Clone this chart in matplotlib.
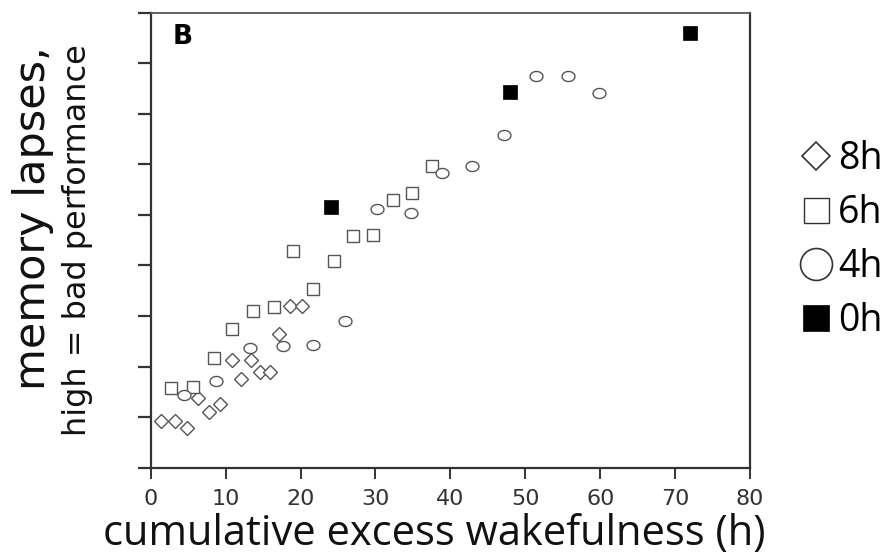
import numpy as np
import matplotlib
matplotlib.use("Agg")
import matplotlib.pyplot as plt
from matplotlib.path import Path
from matplotlib.lines import Line2D

plt.rcParams["font.family"] = ["Open Sans", "DejaVu Sans"]

# ── data (x = excess wakefulness h, y = lapses, arbitrary units)
x_8h = [1.4, 3.2, 4.8, 6.3, 7.8, 9.2, 10.8, 12.0, 13.4, 14.6, 15.9, 17.1, 18.6, 20.2]
y_8h = [0.93, 0.93, 0.79, 1.38, 1.11, 1.27, 2.14, 1.75, 2.13, 1.89, 1.90, 2.64, 3.20, 3.20]

x_6h = [2.7, 5.7, 8.4, 10.9, 13.6, 16.4, 19.0, 21.7, 24.4, 27.0, 29.7, 32.4, 34.9, 37.6]
y_6h = [1.57, 1.60, 2.17, 2.74, 3.10, 3.18, 4.29, 3.53, 4.08, 4.58, 4.60, 5.30, 5.44, 5.97]

x_4h = [4.5, 8.7, 13.2, 17.6, 21.6, 26.0, 30.2, 34.7, 38.9, 42.9, 47.2, 51.4, 55.7, 59.9]
y_4h = [1.44, 1.72, 2.36, 2.40, 2.42, 2.90, 5.11, 5.03, 5.82, 5.96, 6.59, 7.74, 7.74, 7.41]

x_0h = [24.0, 48.0, 72.0]
y_0h = [5.15, 7.43, 8.60]

x_ticks = [0, 10, 20, 30, 40, 50, 60, 70, 80]
y_ticks = [0, 1, 2, 3, 4, 5, 6, 7, 8, 9]

# flattened circle (the original is slightly squashed)
t = np.linspace(0, 2 * np.pi, 60)
ellipse = Path(np.column_stack([np.cos(t), 0.78 * np.sin(t)]), closed=True)

edge = "#555555"
fig = plt.figure(figsize=(8.96, 5.58), dpi=100)
ax = fig.add_axes([0.1682, 0.1618, 0.6689, 0.8154])

ax.plot(x_8h, y_8h, ls="none", marker="D", ms=7.0, mfc="white", mec=edge, mew=1.0)
ax.plot(x_6h, y_6h, ls="none", marker="s", ms=9.0, mfc="white", mec=edge, mew=1.0)
ax.plot(x_4h, y_4h, ls="none", marker=ellipse, ms=9.3, mfc="white", mec=edge, mew=1.0)
ax.plot(x_0h, y_0h, ls="none", marker="s", ms=9.8, mfc="black", mec="black", mew=0.5)

ax.set_xlim(0, 80)
ax.set_ylim(0, 9)
ax.set_xticks(x_ticks)
ax.set_yticks(y_ticks)
ax.set_yticklabels([])
ax.tick_params(axis="x", direction="out", length=8, width=1.4, color="#333333",
               labelsize=16, labelcolor="#333333", pad=7)
for lb in ax.get_xticklabels():
    lb.set_family("DejaVu Sans")
ax.tick_params(axis="y", direction="out", length=9.5, width=1.6, color="#333333")
for s in ax.spines.values():
    s.set_linewidth(1.6)
    s.set_color("#333333")
ax.spines["top"].set_color("#555555")
ax.spines["top"].set_linewidth(1.3)

ax.set_xlabel("cumulative excess wakefulness (h)", fontsize=30, color="#111111")
ax.xaxis.set_label_coords(0.473, -0.146)
ax.xaxis.label.set_verticalalignment("center")

fig.text(33 / 896, 1 - 218 / 558, "memory lapses,", rotation=90, fontsize=31,
         family="DejaVu Sans", ha="center", va="center", color="#111111")
fig.text(78 / 896, 1 - 240 / 558, "high = bad performance", rotation=90, fontsize=23,
         family="DejaVu Sans", ha="center", va="center", color="#111111")

ax.text(0.037, 0.947, "B", transform=ax.transAxes, fontsize=19, fontweight="bold",
        family="DejaVu Sans", ha="left", va="center")

handles = [
    Line2D([0], [0], ls="none", marker="D", ms=14.5, mfc="white", mec="#333333", mew=1.2, label="8h"),
    Line2D([0], [0], ls="none", marker="s", ms=18, mfc="white", mec="#333333", mew=1.0, label="6h"),
    Line2D([0], [0], ls="none", marker="o", ms=23, mfc="white", mec="#333333", mew=1.2, label="4h"),
    Line2D([0], [0], ls="none", marker="s", ms=19, mfc="black", mec="black", mew=0.5, label="0h"),
]
fig.legend(handles=handles, loc="center left", bbox_to_anchor=(0.894, 1 - 240 / 558),
           frameon=False, fontsize=27, handlelength=0.8, handletextpad=0.18,
           labelspacing=0.42, borderpad=0, borderaxespad=0)

fig.savefig("out.png", dpi=100)
